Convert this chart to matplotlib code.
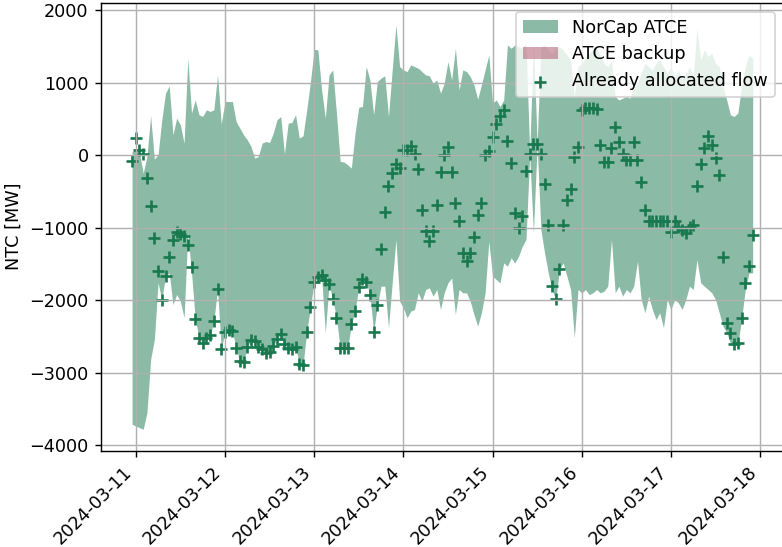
import numpy as np
import pandas as pd
import matplotlib
matplotlib.use('Agg')
import matplotlib.pyplot as plt
import matplotlib.dates as mdates

# hourly values, first hour 2024-03-10 23:00
start = '2024-03-10 23:00'

norcap_upper = [
    50, 60, 28, -248, -18, 541, -55, 5, 486, 853, 954, 280, 509, 417, 165, 1335,
    578, 761, 555, 532, 624, 601, 624, 1105, 430, 738, 738, 738, 463, 371, 280, 211,
    119, -41, -18, 165, 188, 174, 303, 486, 532, 18, 440, 450, 555, 234, 266, 624,
    1014, 1459, 1450, 899, 509, 1105, 1174, 578, -87, -96, -133, -179, 303, 660, 670, 1220,
    1037, 555, 1014, 1060, 1092, 532, 1174, 1794, 1220, 1174, 1151, 1243, 1220, 1197, 1151, 1105,
    1092, 991, 1037, 853, 991, 1289, 1037, 1472, 899, 1174, 1151, 1083, 968, 770, 968, 1174,
    1381, 716, 761, 670, 761, 1518, 1472, 1518, 1495, 1472, 1541, 28, 1587, 160, 1495, 1518,
    1450, 1404, 1472, 1495, 1450, 1381, 1312, 807, 1220, 1266, 1335, 1404, 1450, 1495, 1358, 1266,
    1220, 1312, 807, 761, 784, 807, 784, 922, 991, 1128, 1266, 1220, 1174, 1266, 1312, 1220,
    1128, 1220, 1083, 1174, 1037, 1128, 1220, 1083, 1748, 1312, 1450, 1358, 1404, 1266, 1220, 945,
    761, 555, 532, 578, 945, 1220, 1381, 1335,
]

norcap_lower = [
    -3711, -3734, -3757, -3780, -3550, -2816, -2541, -1761, -1991, -1670, -1624, -2060, -1922, -2014, -2243, -1073,
    -1624, -2257, -2518, -2587, -2518, -2486, -2289, -1844, -2670, -2440, -2417, -2431, -2656, -2839, -2853, -2642,
    -2550, -2564, -2642, -2679, -2725, -2711, -2633, -2532, -2472, -2610, -2665, -2679, -2642, -2876, -2894, -2440,
    -2092, -1752, -1697, -1670, -2449, -1784, -1991, -2243, -2670, -2670, -2670, -2335, -2151, -1817, -1706, -1752,
    -1922, -2440, -2073, -1807, -1807, -2381, -1761, -1165, -2014, -2105, -2243, -2151, -2128, -1899, -2014, -1853,
    -1830, -1945, -1853, -2128, -1899, -1761, -1693, -2197, -1853, -1899, -1899, -2014, -2197, -2358, -2174, -1899,
    -1188, -1670, -1716, -1761, -1486, -1532, -1417, -1486, -1394, -1257, -1165, 0, -1073, 140, -1027, -1349,
    -1624, -1853, -1991, -1578, -1486, -1670, -1853, -2518, -1853, -1899, -1853, -1922, -1899, -1853, -1899, -1876,
    -1807, -1165, -1899, -1807, -1945, -1853, -1899, -1807, -1463, -1991, -2174, -1945, -2128, -2266, -2174, -2381,
    -1991, -2128, -1991, -2037, -2128, -1991, -1807, -1853, -1440, -1761, -1807, -1853, -1899, -1991, -2174, -2358,
    -2449, -2587, -2633, -2610, -2266, -1853, -1624, -1624,
]

allocated_flow = [
    -87, 234, 64, 18, -321, -697, -1142, -1601, -2004, -1660, -1408, -1174, -1064, -1087, -1110, -1243,
    -1541, -2257, -2518, -2587, -2518, -2486, -2289, -1844, -2670, -2440, -2417, -2431, -2656, -2839, -2853, -2642,
    -2550, -2564, -2642, -2679, -2725, -2711, -2633, -2532, -2472, -2610, -2665, -2679, -2642, -2876, -2894, -2440,
    -2092, -1752, -1683, -1647, -1716, -1771, -1982, -2243, -2665, -2665, -2665, -2335, -2151, -1817, -1706, -1752,
    -1922, -2440, -2064, -1294, -780, -431, -248, -119, -179, 64, 64, 119, 18, -188, -752, -1050,
    -1188, -1050, -693, -234, 5, 106, -239, -661, -908, -1349, -1463, -1349, -1128, -821, -661, 5,
    50, 243, 431, 532, 624, 188, -110, -798, -1005, -835, -225, 18, 156, 156, 18, -399,
    -968, -1798, -1982, -1569, -959, -615, -468, -28, 106, 624, 647, 647, 647, 633, 133, -96,
    -96, 96, 381, 174, 18, -64, -73, 174, -64, -376, -761, -913, -913, -913, -913, -913,
    -913, -1064, -913, -995, -1027, -1073, -995, -968, -422, -124, 96, 257, 142, -41, -280, -1408,
    -2312, -2449, -2610, -2587, -2243, -1761, -1532, -1096,
]

# no backup values in this period
backup_lower = []
backup_upper = []

green = '#18794e'
pink = '#ab4f65'

times = pd.date_range(start, periods=len(allocated_flow), freq='h')

fig = plt.figure(figsize=(782 / 127, 547 / 127), dpi=127)
ax = fig.add_axes([0.1292, 0.176, 0.873, 0.819])

ax.fill_between(times, norcap_lower, norcap_upper, color=green, alpha=0.5,
                linewidth=0, label='NorCap ATCE')
ax.fill_between(times[:len(backup_lower)], backup_lower, backup_upper,
                color=pink, alpha=0.5, linewidth=0, label='ATCE backup')
ax.scatter(times, allocated_flow, marker='+', color=green, s=40,
           label='Already allocated flow')

ax.set_ylim(-4075, 2100)
ax.set_ylabel('NTC [MW]')
ax.xaxis.set_major_locator(mdates.DayLocator())
ax.xaxis.set_major_formatter(mdates.DateFormatter('%Y-%m-%d'))
plt.setp(ax.get_xticklabels(), rotation=45, ha='right')
ax.grid(True)
ax.legend(loc='upper right')

fig.savefig('out.png', dpi=127)
